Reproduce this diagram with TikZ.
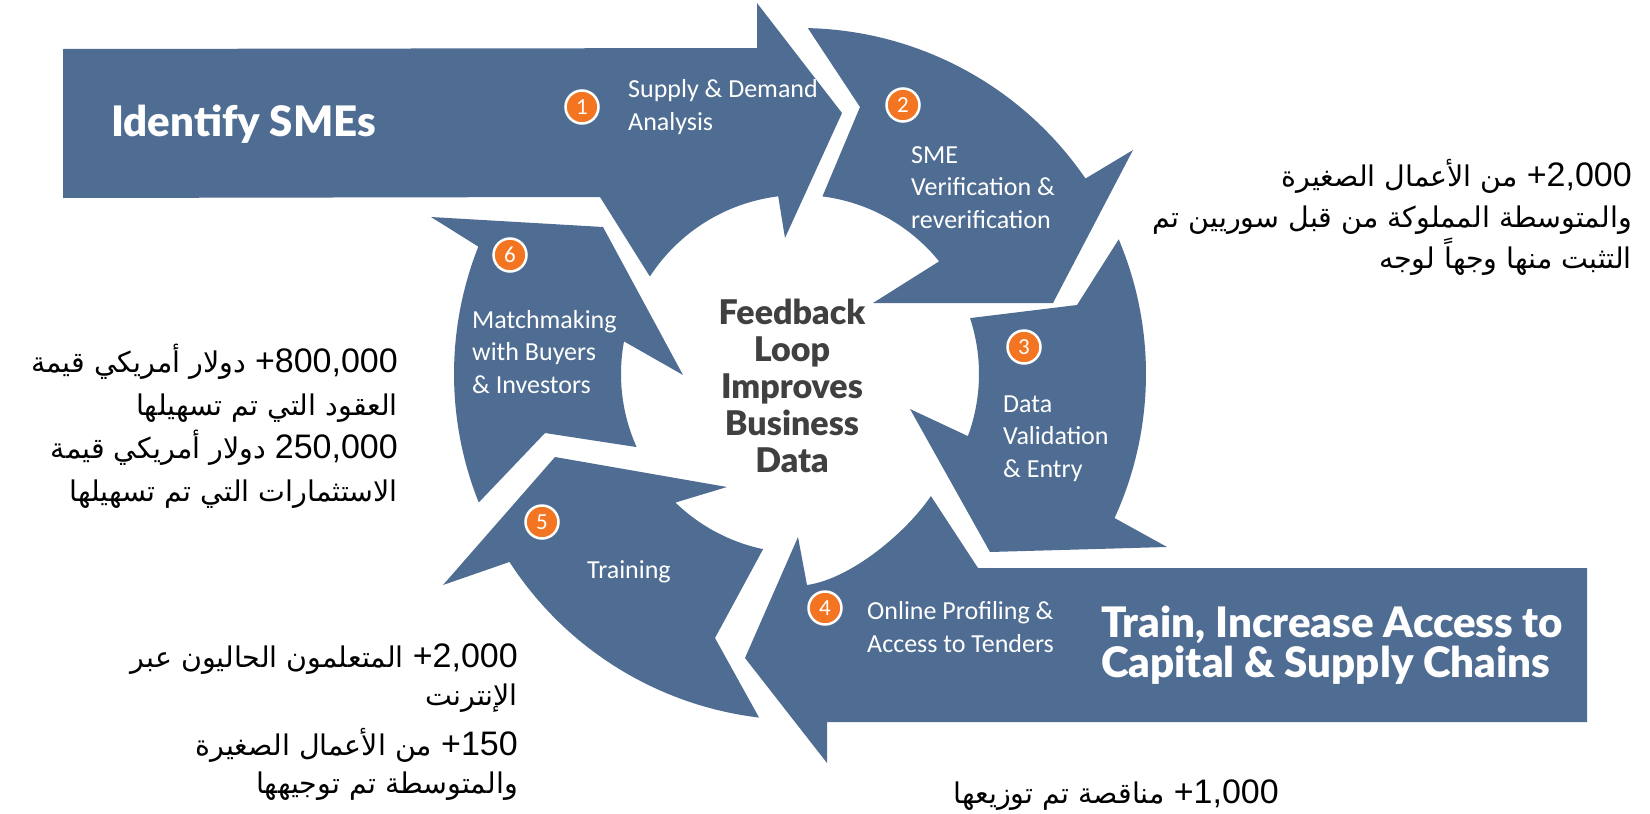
\documentclass[tikz,border=0pt]{standalone}
\usepackage{fontspec}
\setmainfont{Carlito}
\newfontfamily\heavyfont{Lato Black}
\newfontfamily\arabicfont[Script=Arabic]{DejaVu Sans}
\newfontfamily\numfont{Liberation Sans}
\TeXXeTstate=1
\definecolor{segblue}{RGB}{79,109,146}
\definecolor{numorange}{RGB}{244,117,33}
\definecolor{loopgray}{RGB}{64,64,64}
\newcommand\artext[1]{{\arabicfont\fontsize{28.5}{42}\selectfont\beginR#1\endR}}
\newcommand\latnum[1]{\beginL{\numfont\fontsize{34}{42}\selectfont#1}\endL}

\begin{document}
\begin{tikzpicture}[x=1pt,y=-1pt,
  seg/.style={fill=segblue,draw=none},
  stepnum/.style={circle,fill=numorange,draw=white,line width=2.5pt,minimum size=33pt,inner sep=0pt,text=white,font=\fontsize{23}{23}\selectfont},
  steplabel/.style={text=white,align=left,anchor=base west,inner sep=0pt,font=\fontsize{26}{32.5}\selectfont},
  biglabel/.style={text=white,align=left,anchor=base west,inner sep=0pt,font=\heavyfont\fontsize{42}{40}\selectfont},
  looplabel/.style={text=loopgray,align=center,anchor=base,inner sep=0pt,font=\heavyfont\fontsize{34}{37}\selectfont},
  stat/.style={align=right,anchor=base east,inner sep=0pt,font=\fontsize{33}{42}\selectfont}]
\useasboundingbox (0,0) rectangle (1650,814);

% the six segments round the centre
\begin{scope}[shift={(800,374)}]
\fill[seg] (-737,-325) -- (-43,-326) -- (-43,-371) -- (42,-261) -- (-15,-136) -- (-97:179) arc[start angle=-97,end angle=-147,radius=179] -- (-200,-177) -- (-737,-176) -- cycle;
\fill[seg] (-88.7:346) -- (60,-267) -- (-82.8:179) arc[start angle=-82.8,end angle=-39,radius=179] -- (73,-71) -- (253,-71) -- (333,-224) -- (-34.4:346) arc[start angle=-34.4,end angle=-88.7,radius=346] -- cycle;
\fill[seg] (-18.2:179) -- (277,-69) -- (-22.9:346) arc[start angle=-22.9,end angle=24.6,radius=346] -- (367,173) -- (190,178) -- (110,35) -- (20.3:179) arc[start angle=20.3,end angle=-18.2,radius=179] -- cycle;
\fill[seg] (43:179) -- (178,194) -- (787,194) -- (787,348) -- (27,348) -- (27,389) -- (-55,284) -- (-2,163) -- (7,211) .. controls (50,205) and (105,160) .. (43:179) -- cycle;
\fill[seg] (101.9:179) -- (-85,264) -- (96.8:346) arc[start angle=96.8,end angle=147.1,radius=346] -- (-357,211) -- (-245,83) -- (-73,113) -- (134.1:179) arc[start angle=134.1,end angle=101.9,radius=179] -- cycle;
\fill[seg] (155.9:179) -- (-255,59) -- (158.2:346) arc[start angle=158.2,end angle=201.6,radius=346] -- (-369,-157) -- (-197,-147) -- (-117,1) -- (190.5:179) arc[start angle=190.5,end angle=155.9,radius=179] -- cycle;
\end{scope}

\node[stepnum] (n1) at (582,107) {1};
\node[stepnum] (n2) at (903,105) {2};
\node[stepnum] (n3) at (1024,347) {3};
\node[stepnum] (n4) at (825,608) {4};
\node[stepnum] (n5) at (542,522) {5};
\node[stepnum] (n6) at (510,255) {6};

% multi-line nodes sit on the baseline of their last line
\node[steplabel] (supply) at (628,130) {Supply \& Demand\\Analysis};
\node[steplabel] (verify) at (911,228) {SME\\Verification \&\\reverification};
\node[steplabel] (valid) at (1003,477) {Data\\Validation\\\& Entry};
\node[steplabel] (tender) at (867,652) {Online Profiling \&\\Access to Tenders};
\node[steplabel] (training) at (587,578) {Training};
\node[steplabel] (match) at (472,393) {Matchmaking\\with Buyers\\\& Investors};

\node[biglabel] (identify) at (111,136) {Identify SMEs};
\node[biglabel] (access) at (1101,677) {Train, Increase Access to\\Capital \& Supply Chains};
\node[looplabel] (loop) at (792,472) {Feedback\\Loop\\Improves\\Business\\Data};

\node[stat] (smes) at (1632,268) {\artext{\latnum{+2,000} من الأعمال الصغيرة}\\[-1pt]
  \artext{والمتوسطة المملوكة من قبل سوريين تم}\\[-1pt]
  \artext{التثبت منها وجهاً لوجه}};
\node[stat] (deals) at (398,501) {\artext{\latnum{+800,000} دولار أمريكي قيمة}\\[1pt]
  \artext{العقود التي تم تسهيلها}\\[1pt]
  \artext{\latnum{250,000} دولار أمريكي قيمة}\\[1pt]
  \artext{الاستثمارات التي تم تسهيلها}};
\node[stat] (learners) at (518,793) {\artext{\latnum{+2,000} المتعلمون الحاليون عبر}\\[-4pt]
  \artext{الإنترنت}\\[8pt]
  \artext{\latnum{+150} من الأعمال الصغيرة}\\[-4pt]
  \artext{والمتوسطة تم توجيهها}};
\node[stat] (tenders) at (1279,803) {\artext{\latnum{+1,000} مناقصة تم توزيعها}};
\end{tikzpicture}
\end{document}
